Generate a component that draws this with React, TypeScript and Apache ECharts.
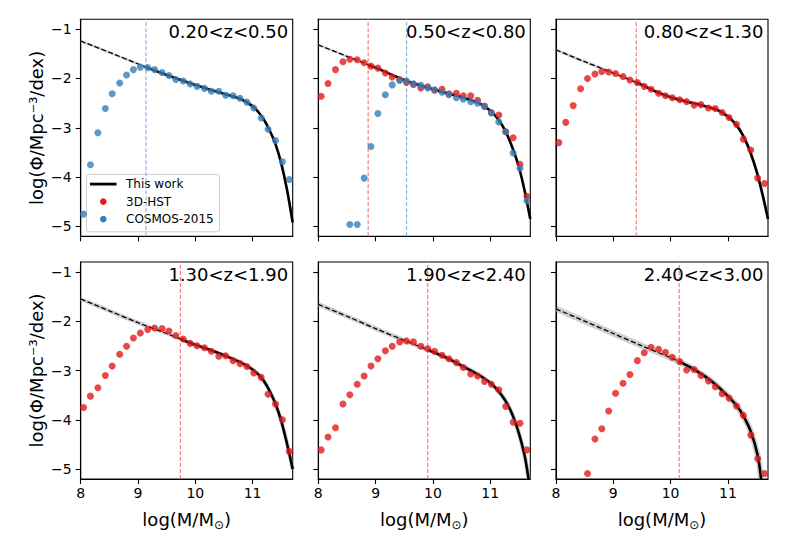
import React, { useEffect, useRef } from "react";
import * as echarts from "echarts";

// ---------- data ----------
const MASS_BINS = [8.05, 8.17, 8.30, 8.43, 8.55, 8.68, 8.80, 8.92, 9.04, 9.17, 9.29, 9.42, 9.54, 9.66, 9.79, 9.91, 10.03, 10.16, 10.28, 10.41, 10.53, 10.66, 10.78, 10.90, 11.02, 11.15, 11.27, 11.40, 11.52, 11.64];

const Z_LABELS = ["0.20<z<0.50", "0.50<z<0.80", "0.80<z<1.30", "1.30<z<1.90", "1.90<z<2.40", "2.40<z<3.00"];

const X_TICKS = [8, 9, 10, 11];
const Y_TICKS = [-5, -4, -3, -2, -1];
const Y_RANGE = [-5.2, -0.8];

// 3D-HST points
const HST_2 = [-2.36, -2.10, -1.82, -1.66, -1.61, -1.62, -1.68, -1.75, -1.79, -1.89, -1.97, -2.02, -2.08, -2.12, -2.19, -2.17, -2.24, -2.22, -2.31, -2.30, -2.35, -2.35, -2.44, -2.56, -2.69, -2.74, -3.08, -3.20, -3.74, -4.39];
const HST_3 = [-3.30, -2.89, -2.55, -2.21, -2.00, -1.91, -1.86, -1.87, -1.90, -1.96, -2.03, -2.08, -2.16, -2.22, -2.30, -2.35, -2.39, -2.43, -2.47, -2.54, -2.53, -2.60, -2.61, -2.69, -2.79, -2.93, -3.23, -3.45, -4.02, -4.13];
const HST_4 = [-3.75, -3.52, -3.35, -3.10, -2.91, -2.67, -2.51, -2.34, -2.24, -2.17, -2.14, -2.15, -2.20, -2.29, -2.36, -2.45, -2.50, -2.54, -2.61, -2.71, -2.70, -2.80, -2.86, -2.92, -3.05, -3.14, -3.48, -3.68, -4.00, -4.64];
const HST_5 = [-4.61, -4.35, -4.16, -3.68, -3.49, -3.28, -3.11, -2.91, -2.76, -2.60, -2.51, -2.42, -2.40, -2.42, -2.51, -2.56, -2.61, -2.69, -2.76, -2.84, -2.94, -3.07, -3.11, -3.22, -3.28, -3.39, -3.73, -4.05, -4.07, -4.61];
const HST_6 = [null, null, null, null, -5.09, -4.39, -4.18, -3.82, -3.46, -3.26, -3.08, -2.80, -2.64, -2.53, -2.57, -2.63, -2.73, -2.82, -2.99, -2.98, -3.10, -3.21, -3.33, -3.47, -3.56, -3.72, -3.91, -4.31, -4.79, -5.09];

// COSMOS-2015 points
const COSMOS_1 = [-4.75, -3.75, -3.10, -2.61, -2.31, -2.09, -1.93, -1.82, -1.77, -1.78, -1.82, -1.88, -1.94, -2.02, -2.05, -2.11, -2.16, -2.20, -2.26, -2.26, -2.34, -2.35, -2.40, -2.48, -2.60, -2.80, -3.03, -3.26, -3.69, -4.05];
const COSMOS_2 = [null, null, null, null, -4.96, -4.96, -4.02, -3.38, -2.71, -2.33, -2.13, -2.04, -2.05, -2.11, -2.14, -2.19, -2.23, -2.28, -2.33, -2.39, -2.42, -2.47, -2.50, -2.57, -2.70, -2.88, -3.08, -3.51, -3.82, -4.48];

// completeness limits (vertical dashed lines)
const HST_LIMITS = [null, 8.87, 9.40, 9.74, 9.91, 10.15];
const COSMOS_LIMITS = [9.14, 9.54, null, null, null, null];

// "This work" fit, below (dashed) and above (solid) the limit
const FIT_LOW_1 = [[8.0, -1.24], [8.5, -1.47], [9.14, -1.77]];
const FIT_HIGH_1 = [[9.14, -1.77], [9.5, -1.93], [10.0, -2.13], [10.5, -2.31], [10.8, -2.42], [11.0, -2.56], [11.1, -2.68], [11.2, -2.84], [11.3, -3.06], [11.4, -3.33], [11.5, -3.72], [11.6, -4.25], [11.7, -4.92]];
const FIT_LOW_2 = [[8.0, -1.32], [8.5, -1.55], [8.87, -1.72]];
const FIT_HIGH_2 = [[8.87, -1.72], [9.0, -1.78], [9.5, -2.03], [10.0, -2.22], [10.5, -2.38], [10.8, -2.50], [11.0, -2.65], [11.1, -2.77], [11.2, -2.93], [11.3, -3.15], [11.4, -3.44], [11.5, -3.79], [11.6, -4.27], [11.7, -4.85]];
const FIT_LOW_3 = [[8.0, -1.42], [8.5, -1.66], [9.0, -1.89], [9.40, -2.08]];
const FIT_HIGH_3 = [[9.40, -2.08], [9.5, -2.13], [9.75, -2.27], [10.0, -2.38], [10.25, -2.46], [10.5, -2.53], [10.8, -2.63], [11.0, -2.77], [11.1, -2.88], [11.2, -3.03], [11.3, -3.24], [11.4, -3.52], [11.5, -3.88], [11.6, -4.33], [11.7, -4.85]];
const FIT_LOW_4 = [[8.0, -1.55], [8.5, -1.79], [9.0, -2.03], [9.5, -2.25], [9.74, -2.36]];
const FIT_HIGH_4 = [[9.74, -2.36], [10.0, -2.48], [10.25, -2.58], [10.5, -2.69], [10.8, -2.84], [11.0, -2.98], [11.1, -3.08], [11.2, -3.22], [11.3, -3.42], [11.4, -3.68], [11.5, -4.02], [11.6, -4.48], [11.7, -5.0]];
const FIT_LOW_5 = [[8.0, -1.66], [8.5, -1.90], [9.0, -2.15], [9.5, -2.39], [9.91, -2.58]];
const FIT_HIGH_5 = [[9.91, -2.58], [10.25, -2.75], [10.5, -2.90], [10.8, -3.09], [11.0, -3.25], [11.1, -3.36], [11.2, -3.50], [11.3, -3.68], [11.4, -3.93], [11.5, -4.27], [11.6, -4.72], [11.67, -5.2]];
const FIT_LOW_6 = [[8.0, -1.75], [8.5, -2.0], [9.0, -2.25], [9.5, -2.5], [10.0, -2.74], [10.15, -2.82]];
const FIT_HIGH_6 = [[10.15, -2.82], [10.4, -2.97], [10.6, -3.12], [10.8, -3.30], [11.0, -3.52], [11.15, -3.71], [11.27, -3.92], [11.4, -4.24], [11.52, -4.72], [11.58, -5.2]];

const HST_VALUES = [null, HST_2, HST_3, HST_4, HST_5, HST_6];
const COSMOS_VALUES = [COSMOS_1, COSMOS_2, null, null, null, null];
const FIT_LOWS = [FIT_LOW_1, FIT_LOW_2, FIT_LOW_3, FIT_LOW_4, FIT_LOW_5, FIT_LOW_6];
const FIT_HIGHS = [FIT_HIGH_1, FIT_HIGH_2, FIT_HIGH_3, FIT_HIGH_4, FIT_HIGH_5, FIT_HIGH_6];

// ---------- layout / style ----------
const FONT = "DejaVu Sans";
const RED = "#e41a1c";
const BLUE = "#377eb8";
const RED_LIM = "#f08080";
const BLUE_LIM = "#8db3d9";
const GRID_LEFTS = [80.7, 318.3, 556];
const GRID_TOPS = [19.3, 262];
const GW = 212;
const GH = 217;
const BAND_W = [2.5, 2.5, 3, 4, 4.5, 6];

function pairs(vals: (number | null)[] | null) {
  if (!vals) return [];
  const out: number[][] = [];
  vals.forEach((v, i) => {
    if (v !== null && v !== undefined) out.push([MASS_BINS[i], v]);
  });
  return out;
}

function minus(v: number) {
  return String(v).replace("-", "\u2212");
}

function vline(i: number, x: number, color: string, id: string) {
  return {
    id,
    type: "line", xAxisIndex: i, yAxisIndex: i,
    data: [[x, Y_RANGE[0]], [x, Y_RANGE[1]]],
    symbol: "none", silent: true, z: 1,
    lineStyle: { color, width: 1.2, type: [4, 2] },
  };
}

function buildOption() {
  const grid: any[] = [];
  const xAxis: any[] = [];
  const yAxis: any[] = [];
  const series: any[] = [];
  const graphic: any[] = [];

  for (let i = 0; i < 6; i++) {
    const col = i % 3;
    const row = Math.floor(i / 3);
    const left = GRID_LEFTS[col];
    const top = GRID_TOPS[row];
    grid.push({ left, top, width: GW, height: GH, show: true, borderColor: "#000", borderWidth: 1.1, backgroundColor: "transparent", containLabel: false });
    xAxis.push({
      type: "value", gridIndex: i, min: 8, max: 11.7,
      splitLine: { show: false },
      axisLine: { show: true, onZero: false, lineStyle: { color: "#000", width: 1.1 } },
      axisTick: { show: true, customValues: X_TICKS, length: 5, lineStyle: { color: "#000", width: 1.1 } },
      axisLabel: { show: row === 1, customValues: X_TICKS, margin: 7, fontSize: 14, color: "#000", fontFamily: FONT },
    });
    yAxis.push({
      type: "value", gridIndex: i, min: Y_RANGE[0], max: Y_RANGE[1],
      splitLine: { show: false },
      axisLine: { show: true, onZero: false, lineStyle: { color: "#000", width: 1.1 } },
      axisTick: { show: true, customValues: Y_TICKS, length: 5, lineStyle: { color: "#000", width: 1.1 } },
      axisLabel: { show: col === 0, customValues: Y_TICKS, margin: 9, fontSize: 14, color: "#000", fontFamily: FONT, formatter: (v: number) => minus(v) },
    });

    const hstLim = HST_LIMITS[i];
    if (hstLim !== null) series.push(vline(i, hstLim, RED_LIM, `hstlim${i}`));
    const cosLim = COSMOS_LIMITS[i];
    if (cosLim !== null) series.push(vline(i, cosLim, BLUE_LIM, `coslim${i}`));

    const low = FIT_LOWS[i];
    const high = FIT_HIGHS[i];
    series.push({
      id: `band${i}`,
      type: "line", xAxisIndex: i, yAxisIndex: i, data: [...low, ...high.slice(1)],
      smooth: 0.3, symbol: "none", silent: true, z: 2,
      lineStyle: { color: "#a8a8a8", width: BAND_W[i], opacity: 0.55 },
    });
    series.push({
      id: `low${i}`,
      type: "line", xAxisIndex: i, yAxisIndex: i, data: low,
      smooth: 0.3, symbol: "none", silent: true, z: 3,
      lineStyle: { color: "#000", width: 1.3, type: [5, 2.4] },
    });
    series.push({
      id: `fit${i}`, name: "This work",
      type: "line", xAxisIndex: i, yAxisIndex: i, data: high,
      smooth: 0.3, symbol: "none", silent: true, z: 3,
      lineStyle: { color: "#000", width: 2.6 },
    });
    series.push({
      id: `hst${i}`, name: "3D-HST",
      type: "scatter", xAxisIndex: i, yAxisIndex: i, data: pairs(HST_VALUES[i]),
      symbolSize: 7, itemStyle: { color: RED }, z: 4, silent: true,
    });
    series.push({
      id: `cos${i}`, name: "COSMOS-2015",
      type: "scatter", xAxisIndex: i, yAxisIndex: i, data: pairs(COSMOS_VALUES[i]),
      symbolSize: 7, itemStyle: { color: BLUE }, z: 5, silent: true,
    });

    // panel title
    graphic.push({
      type: "text", x: left + GW - 4.5, y: top + 12.5, z: 10,
      style: { text: Z_LABELS[i], font: `18px "${FONT}"`, fill: "#000", textAlign: "right", textVerticalAlign: "middle" },
    });
  }

  // y axis titles
  for (let r = 0; r < 2; r++) {
    graphic.push({
      type: "text", x: 36, y: GRID_TOPS[r] + GH / 2, rotation: Math.PI / 2, z: 10,
      style: { text: "log(\u03a6/Mpc\u207b\u00b3/dex)", font: `18px "${FONT}"`, fill: "#000", textAlign: "center", textVerticalAlign: "middle" },
    });
  }
  // x axis titles
  for (let c = 0; c < 3; c++) {
    graphic.push({
      type: "text", x: GRID_LEFTS[c] + GW / 2, y: 519, z: 10,
      style: {
        text: "{m|log(M/M}{s|\u2299}{m|)}",
        textAlign: "center", textVerticalAlign: "middle",
        rich: {
          m: { fontSize: 18, fontFamily: FONT, fill: "#000", color: "#000", lineHeight: 24, verticalAlign: "middle" },
          s: { fontSize: 12, fontFamily: FONT, fill: "#000", color: "#000", lineHeight: 14, verticalAlign: "bottom" },
        },
      },
    });
  }

  // legend in first panel
  const lx = 86.5, ly = 174.3;
  graphic.push({
    type: "group", z: 20,
    children: [
      { type: "rect", shape: { x: lx, y: ly, width: 133, height: 57.5, r: 3 }, style: { fill: "rgba(255,255,255,0.8)", stroke: "#cccccc", lineWidth: 1 } },
      { type: "line", shape: { x1: lx + 3.5, y1: ly + 9.8, x2: lx + 30, y2: ly + 9.8 }, style: { stroke: "#000", lineWidth: 2.8 } },
      { type: "circle", shape: { cx: lx + 16.8, cy: ly + 27.3, r: 3.3 }, style: { fill: RED } },
      { type: "circle", shape: { cx: lx + 16.8, cy: ly + 44.8, r: 3.3 }, style: { fill: BLUE } },
      { type: "text", x: lx + 39.5, y: ly + 9.8, style: { text: "This work", font: `12px "${FONT}"`, fill: "#000", textVerticalAlign: "middle" } },
      { type: "text", x: lx + 39.5, y: ly + 27.3, style: { text: "3D-HST", font: `12px "${FONT}"`, fill: "#000", textVerticalAlign: "middle" } },
      { type: "text", x: lx + 39.5, y: ly + 44.8, style: { text: "COSMOS-2015", font: `12px "${FONT}"`, fill: "#000", textVerticalAlign: "middle" } },
    ],
  });

  return {
    animation: false,
    backgroundColor: "#fff",
    textStyle: { fontFamily: FONT },
    grid, xAxis, yAxis, series, graphic,
  };
}

export default function App() {
  const ref = useRef<HTMLDivElement>(null);
  useEffect(() => {
    if (!ref.current) return;
    const chart = echarts.init(ref.current, undefined, { renderer: "svg" });
    chart.setOption(buildOption() as any);
    return () => chart.dispose();
  }, []);
  return <div ref={ref} style={{ position: "absolute", left: 0, top: 0, width: 788, height: 548 }} />;
}
